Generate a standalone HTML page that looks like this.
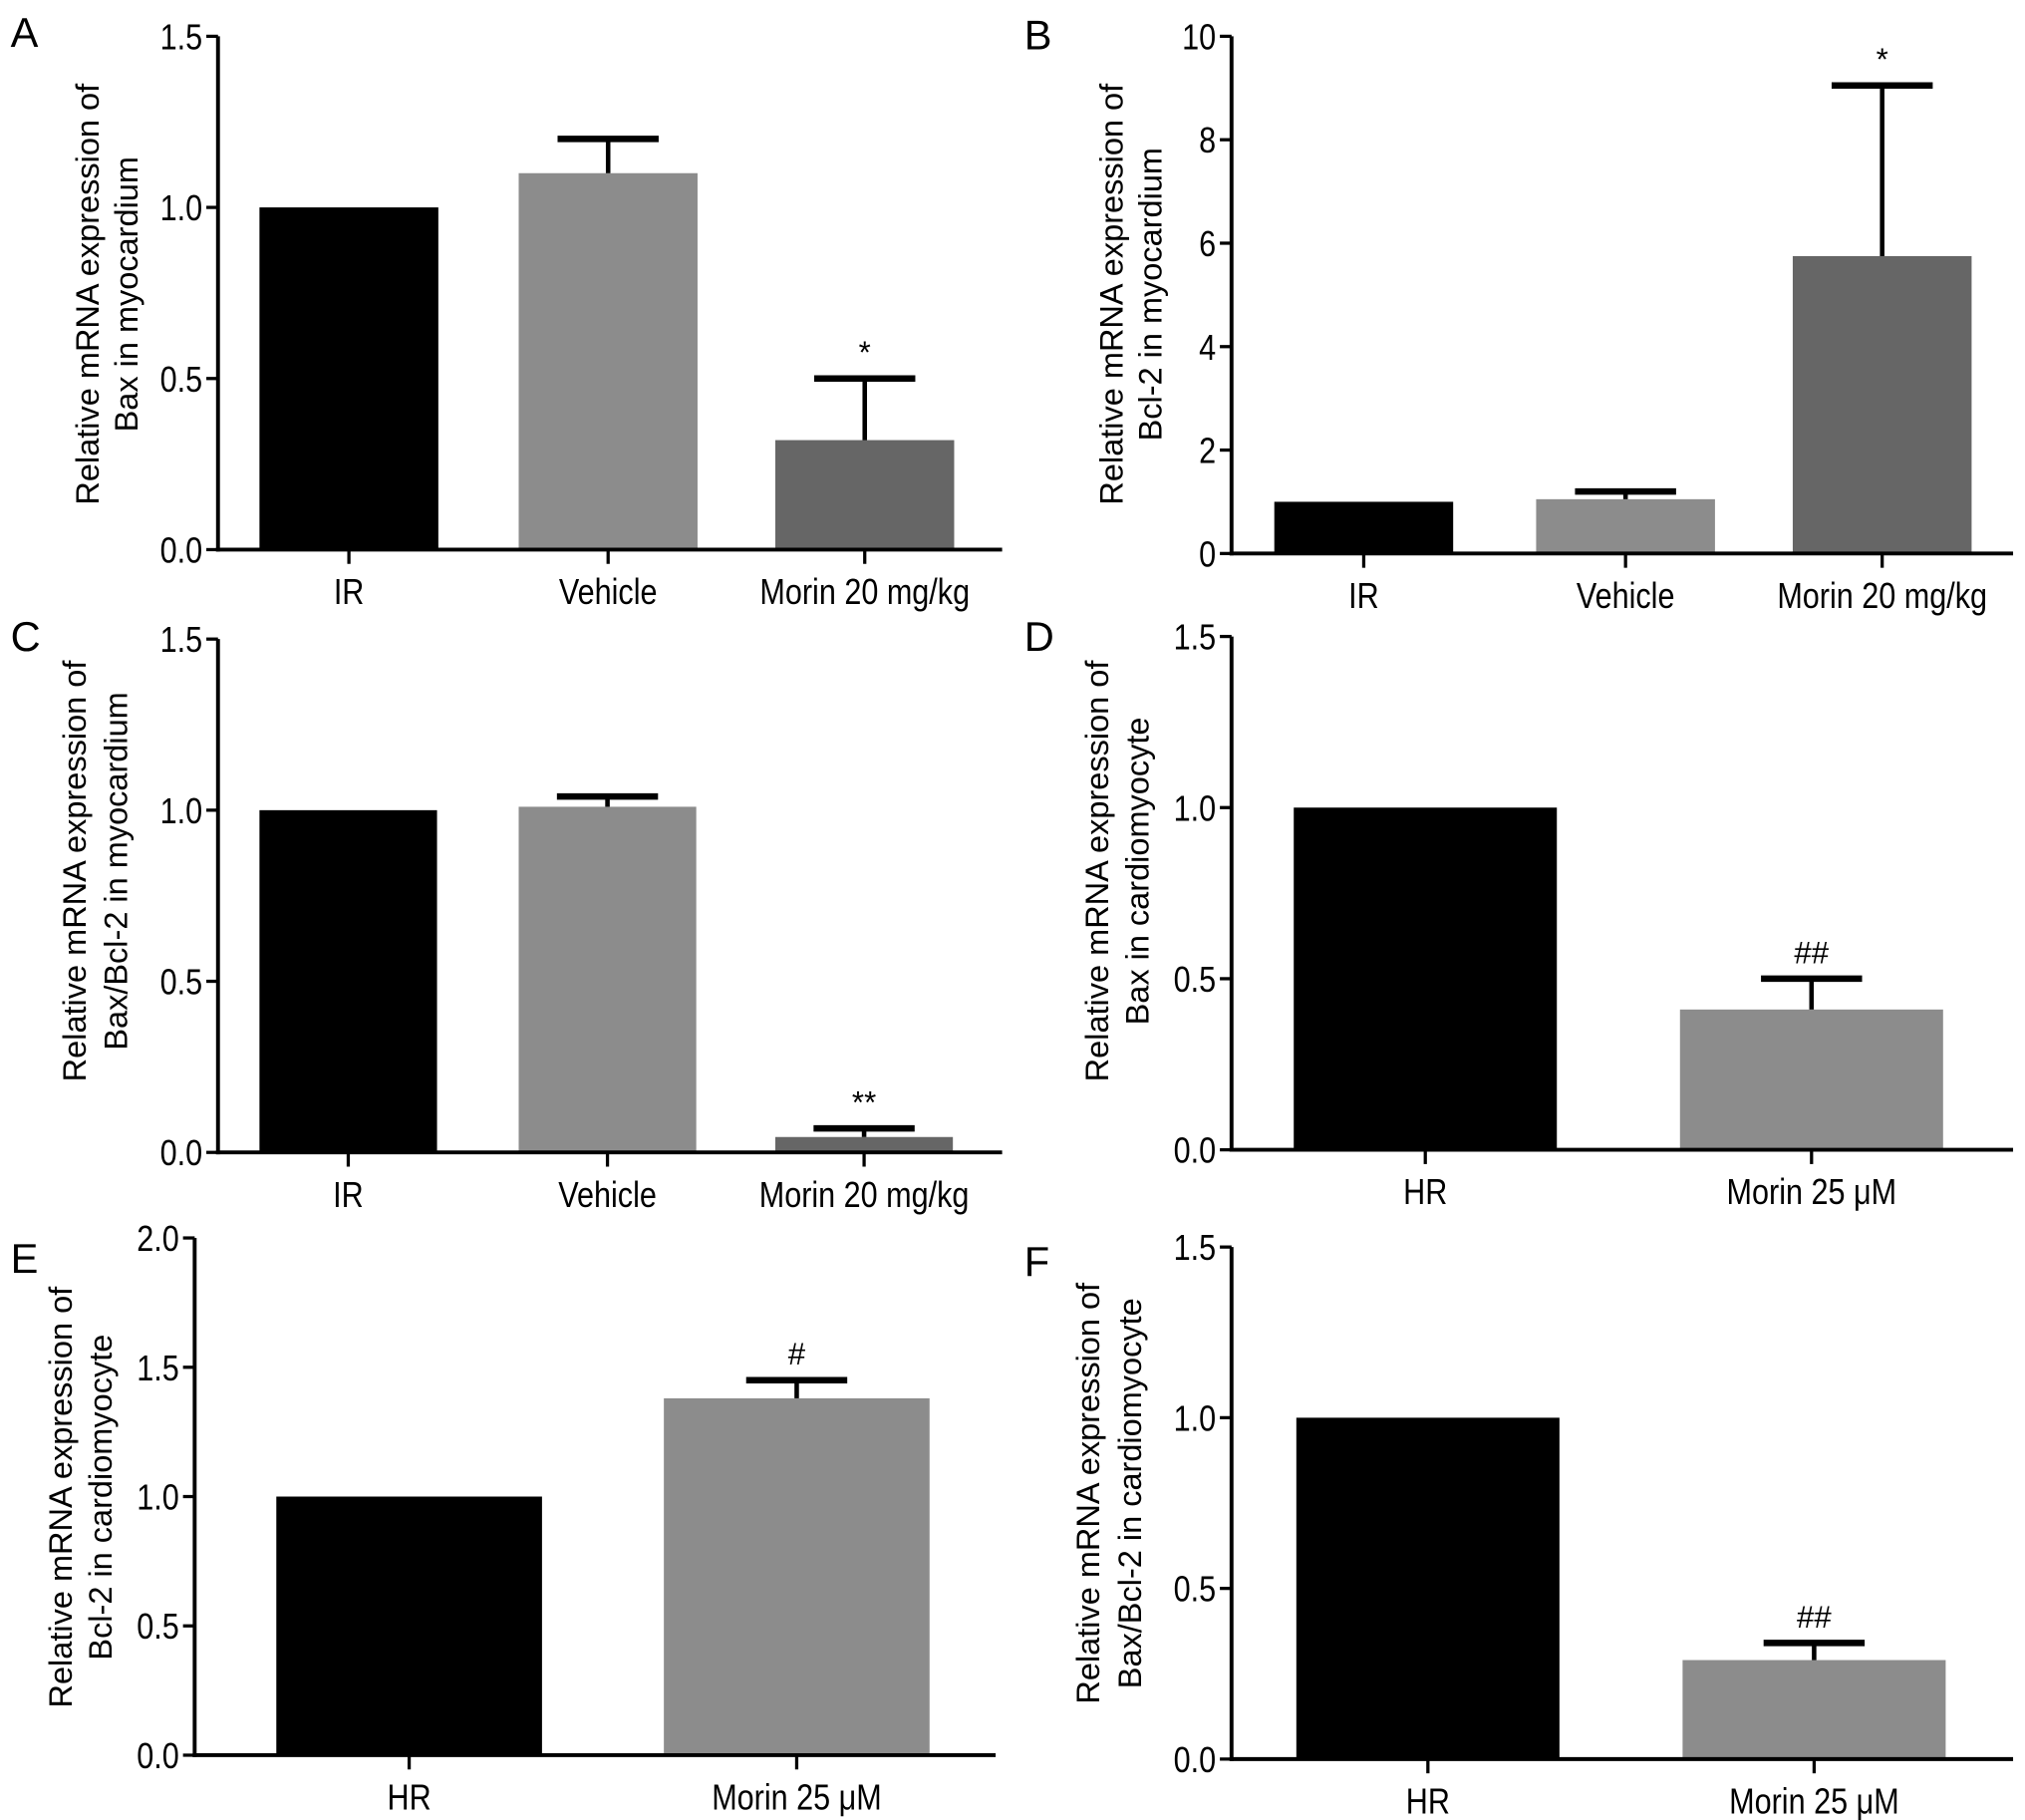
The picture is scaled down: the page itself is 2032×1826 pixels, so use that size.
<!DOCTYPE html>
<html><head><meta charset="utf-8"><style>
html,body{margin:0;padding:0;background:#fff}
svg{display:block;font-family:"Liberation Sans",Arial,Helvetica,sans-serif}
</style></head><body>
<svg id="fig" width="2032" height="1826" viewBox="0 0 1562 1404" xmlns="http://www.w3.org/2000/svg"></svg>
<script>
// Panel data
const catsA = ["IR","Vehicle","Morin 20 mg/kg"];
const valsA = [1.0, 1.1, 0.32];
const errsA = [0, 0.1, 0.18];
const sigA = ["", "", "*"];
const ticksA = ["0.0","0.5","1.0","1.5"];

const catsB = ["IR","Vehicle","Morin 20 mg/kg"];
const valsB = [1.0, 1.05, 5.75];
const errsB = [0, 0.15, 3.3];
const sigB = ["", "", "*"];
const ticksB = ["0","2","4","6","8","10"];

const catsC = ["IR","Vehicle","Morin 20 mg/kg"];
const valsC = [1.0, 1.01, 0.045];
const errsC = [0, 0.03, 0.025];
const sigC = ["", "", "**"];
const ticksC = ["0.0","0.5","1.0","1.5"];

const catsD = ["HR","Morin 25 \u03bcM"];
const valsD = [1.0, 0.41];
const errsD = [0, 0.09];
const sigD = ["", "##"];
const ticksD = ["0.0","0.5","1.0","1.5"];

const catsE = ["HR","Morin 25 \u03bcM"];
const valsE = [1.0, 1.38];
const errsE = [0, 0.07];
const sigE = ["", "#"];
const ticksE = ["0.0","0.5","1.0","1.5","2.0"];

const catsF = ["HR","Morin 25 \u03bcM"];
const valsF = [1.0, 0.29];
const errsF = [0, 0.05];
const sigF = ["", "##"];
const ticksF = ["0.0","0.5","1.0","1.5"];

const NS="http://www.w3.org/2000/svg";
const svg=document.getElementById('fig');
function mk(tag,attrs,parent){const e=document.createElementNS(NS,tag);for(const k in attrs)e.setAttribute(k,attrs[k]);(parent||svg).appendChild(e);return e;}

const colors3=["#000000","#8c8c8c","#666666"];
const colors2=["#000000","#8c8c8c"];

function panel(cfg){
  const g=mk('g',{});
  
  
  const ymax=parseFloat(cfg.ticks[cfg.ticks.length-1]);
  const y=v=>cfg.y0-(v/ymax)*(cfg.y0-cfg.ytop);
  const L=mk('text',{x:cfg.lx,y:cfg.ly,'font-size':32,fill:'#000'},g);L.textContent=cfg.id;
  
  
  cfg.cats.forEach((c,i)=>{
    const x0=cfg.bx[i], w=cfg.bw, v=cfg.vals[i], e=cfg.errs[i];
    const r=mk('rect',{x:x0,y:y(v),width:w,height:cfg.y0-y(v),fill:cfg.colors[i]},g);
    
    
    const cx=x0+w/2;
    if(e>0){
      const eb=mk('line',{x1:cx,x2:cx,y1:y(v),y2:y(v+e),stroke:'#000','stroke-width':3.5},g);
      
      
      const cap=mk('line',{x1:cx-39,x2:cx+39,y1:y(v+e),y2:y(v+e),stroke:'#000','stroke-width':5},g);
      
      
    }
    if(cfg.sig[i]){
      const s=mk('text',{x:cx,y:y(v+e)-12,'font-size':24,'text-anchor':'middle',fill:'#000'},g);
      s.textContent=cfg.sig[i];
      
      
    }
    const tk=mk('line',{x1:cx,x2:cx,y1:cfg.y0,y2:cfg.y0+11,stroke:'#000','stroke-width':2.5},g);
    
    
    const t=mk('text',{'font-size':28,'text-anchor':'middle',fill:'#000',transform:`translate(${cx},${cfg.y0+42}) scale(0.84,1)`},g);
    t.textContent=c;
    
    
  });
  const ya=mk('line',{x1:cfg.ax,x2:cfg.ax,y1:cfg.ytop,y2:cfg.y0+1.5,stroke:'#000','stroke-width':3},g);
  
  
  const xa=mk('line',{x1:cfg.ax-1.5,x2:cfg.xend,y1:cfg.y0,y2:cfg.y0,stroke:'#000','stroke-width':3},g);
  
  
  cfg.ticks.forEach(tv=>{
    const v=parseFloat(tv), yy=y(v);
    const tk=mk('line',{x1:cfg.ax-9,x2:cfg.ax,y1:yy,y2:yy,stroke:'#000','stroke-width':2.5},g);
    
    
    const t=mk('text',{'font-size':28,'text-anchor':'end',fill:'#000',transform:`translate(${cfg.ax-12},${yy+10}) scale(0.84,1)`},g);
    t.textContent=tv;
    
    
  });
  cfg.title.forEach((line,k)=>{
    const t=mk('text',{'font-size':25,'text-anchor':'middle',fill:'#000',transform:`translate(${cfg.tx[k]},${cfg.tcy}) rotate(-90)`},g);
    t.textContent=line;
    
    
  });
}

panel({id:'A',lx:8,ly:36,ax:168,ytop:28,y0:424,xend:773,bx:[200,400,598],bw:138,cats:catsA,vals:valsA,errs:errsA,sig:sigA,ticks:ticksA,colors:colors3,
  title:["Relative mRNA expression of","Bax in myocardium"],tx:[76,106],tcy:227});
panel({id:'B',lx:790,ly:38,ax:950,ytop:28,y0:427,xend:1553,bx:[983,1185,1383],bw:138,cats:catsB,vals:valsB,errs:errsB,sig:sigB,ticks:ticksB,colors:colors3,
  title:["Relative mRNA expression of","Bcl-2 in myocardium"],tx:[866,896],tcy:227});
panel({id:'C',lx:8,ly:502,ax:168,ytop:493,y0:889,xend:773,bx:[200,400,598],bw:137,cats:catsC,vals:valsC,errs:errsC,sig:sigC,ticks:ticksC,colors:colors3,
  title:["Relative mRNA expression of","Bax/Bcl-2 in myocardium"],tx:[66,98],tcy:672});
panel({id:'D',lx:790,ly:502,ax:950,ytop:491,y0:887,xend:1553,bx:[998,1296],bw:203,cats:catsD,vals:valsD,errs:errsD,sig:sigD,ticks:ticksD,colors:colors2,
  title:["Relative mRNA expression of","Bax in cardiomyocyte"],tx:[855,886],tcy:672});
panel({id:'E',lx:8,ly:982,ax:150,ytop:955,y0:1354,xend:768,bx:[213,512],bw:205,cats:catsE,vals:valsE,errs:errsE,sig:sigE,ticks:ticksE,colors:colors2,
  title:["Relative mRNA expression of","Bcl-2 in cardiomyocyte"],tx:[55,86],tcy:1155});
panel({id:'F',lx:790,ly:984,ax:950,ytop:962,y0:1357,xend:1553,bx:[1000,1298],bw:203,cats:catsF,vals:valsF,errs:errsF,sig:sigF,ticks:ticksF,colors:colors2,
  title:["Relative mRNA expression of","Bax/Bcl-2 in cardiomyocyte"],tx:[848,880],tcy:1152});
</script>
</body></html>
